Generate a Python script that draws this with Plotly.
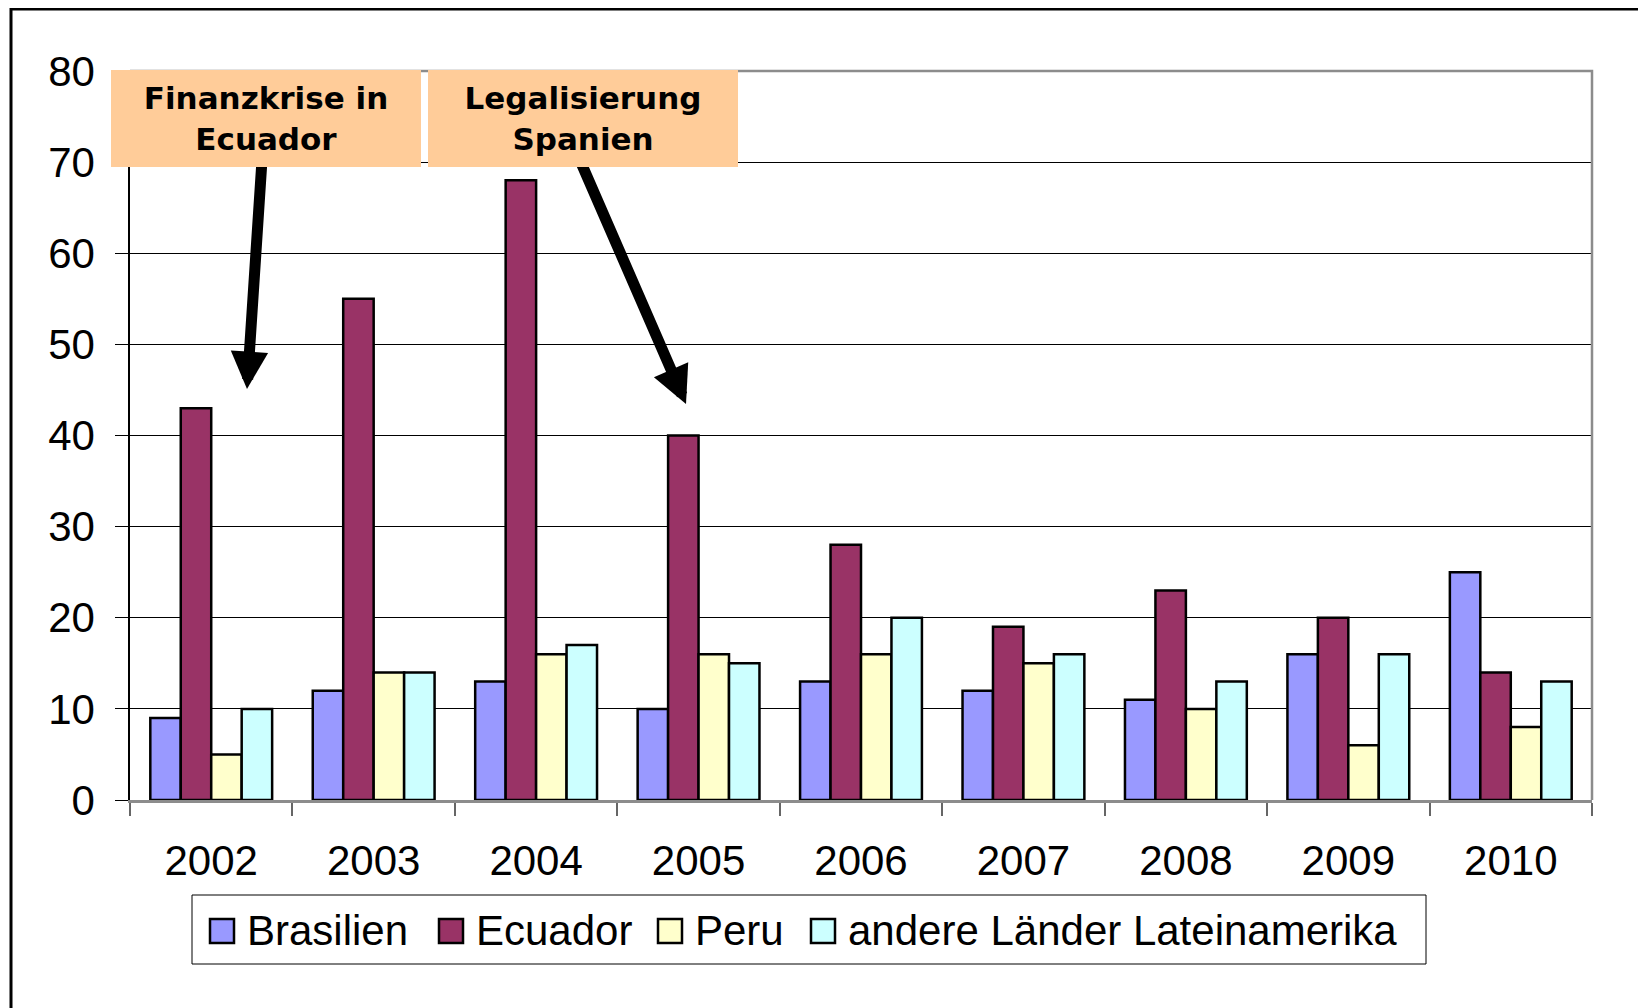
import plotly.graph_objects as go

years = ["2002", "2003", "2004", "2005", "2006", "2007", "2008", "2009", "2010"]
series_names = ["Brasilien", "Ecuador", "Peru", "andere Länder Lateinamerika"]
brasilien = [9, 12, 13, 10, 13, 12, 11, 16, 25]
ecuador = [43, 55, 68, 40, 28, 19, 23, 20, 14]
peru = [5, 14, 16, 16, 16, 15, 10, 6, 8]
andere = [10, 14, 17, 15, 20, 16, 13, 16, 13]
colors = ["#9999FF", "#993366", "#FFFFCC", "#CCFFFF"]
y_ticks = [0, 10, 20, 30, 40, 50, 60, 70, 80]

# page layout (page pixel coordinates; figure sits at page offset 8,8)
OFF = 8
W, H = 1638, 1000
PL, PR, PT, PB = 130, 1592, 71, 800          # plot area in page pixels
L, T = PL - OFF, PT - OFF
R = (OFF + W) - PR
B = (OFF + H) - PB
pw, ph = PR - PL, PB - PT

def px(x):
    return (x - PL) / pw

def py(y):
    return (PB - y) / ph

fig = go.Figure()
for name, vals, col in zip(series_names, [brasilien, ecuador, peru, andere], colors):
    fig.add_trace(go.Bar(
        x=years, y=vals, name=name, showlegend=False,
        marker=dict(color=col, line=dict(color="black", width=2.5)),
    ))

font_main = "Liberation Sans, Arial, sans-serif"

annotations = []
shapes = []

# arrows (drawn first so boxes cover their tails)
annotations.append(dict(
    xref="paper", yref="paper", x=px(247), y=py(389), ax=15, ay=-229,
    text="", showarrow=True, arrowhead=2, arrowsize=0.68, arrowwidth=11,
    arrowcolor="black", standoff=0))
annotations.append(dict(
    xref="paper", yref="paper", x=px(686), y=py(404), ax=-107, ay=-246,
    text="", showarrow=True, arrowhead=2, arrowsize=0.68, arrowwidth=11,
    arrowcolor="black", standoff=0))
for text, cx in [("Finanzkrise in<br>Ecuador", 266), ("Legalisierung<br>Spanien", 583)]:
    annotations.append(dict(
        xref="paper", yref="paper", x=px(cx), y=py(118.5),
        xanchor="center", yanchor="middle",
        text=text, showarrow=False, width=310, height=97,
        bgcolor="#FFCC99", borderpad=0, borderwidth=0,
        font=dict(family="DejaVu Sans, Verdana, sans-serif", size=31, color="black", weight="bold"),
    ))

# legend (drawn manually for large swatches)
legend_box = dict(x0=192, x1=1426, y0=895, y1=964)
legend_swatch_x = [210, 439, 658, 811]
sw_size = 24
leg_cy = 931
shapes.append(dict(type="rect", xref="paper", yref="paper",
                   x0=px(legend_box["x0"]), x1=px(legend_box["x1"]),
                   y0=py(legend_box["y1"]), y1=py(legend_box["y0"]),
                   line=dict(color="black", width=1), fillcolor="white", layer="above"))
for name, col, sx in zip(series_names, colors, legend_swatch_x):
    shapes.append(dict(type="rect", xref="paper", yref="paper",
                       x0=px(sx), x1=px(sx + sw_size),
                       y0=py(leg_cy + sw_size / 2), y1=py(leg_cy - sw_size / 2),
                       line=dict(color="black", width=2.5), fillcolor=col, layer="above"))
    annotations.append(dict(
        xref="paper", yref="paper", x=px(sx + sw_size + 11), y=py(leg_cy - 1),
        xanchor="left", yanchor="middle", text=name, showarrow=False,
        font=dict(family=font_main, size=42, color="black"),
    ))

# outer frame (extends beyond visible page on right/bottom)
shapes.append(dict(type="rect", xref="paper", yref="paper", x0=px(11), x1=1.3, y0=-0.6, y1=py(9),
                   line=dict(color="black", width=3), fillcolor="rgba(0,0,0,0)"))
# grey top and right plot border
shapes.append(dict(type="path", xref="paper", yref="paper", path="M 0 1 L 1 1 L 1 0",
                   line=dict(color="#8c8c8c", width=2.5)))

fig.update_layout(
    width=W, height=H,
    margin=dict(l=L, r=R, t=T, b=B),
    paper_bgcolor="white", plot_bgcolor="white",
    barmode="group", bargap=0.25, bargroupgap=0,
    font=dict(family=font_main, size=42, color="black"),
    showlegend=False,
    xaxis=dict(
        type="category", tickson="boundaries", ticks="outside", ticklen=13,
        tickcolor="#666666", tickwidth=1.5,
        showline=True, linecolor="#8c8c8c", linewidth=2.5,
        showgrid=False, ticklabelstandoff=22,
        tickfont=dict(family=font_main, size=42, color="black"),
    ),
    yaxis=dict(
        range=[0, 80], tickvals=y_ticks, ticks="outside", ticklen=13,
        tickcolor="black", tickwidth=1,
        showline=True, linecolor="black", linewidth=1.5,
        showgrid=True, gridcolor="black", gridwidth=1,
        zeroline=False, ticklabelstandoff=12,
        tickfont=dict(family=font_main, size=42, color="black"),
    ),
    annotations=annotations,
    shapes=shapes,
)

fig.write_html("out.html")
